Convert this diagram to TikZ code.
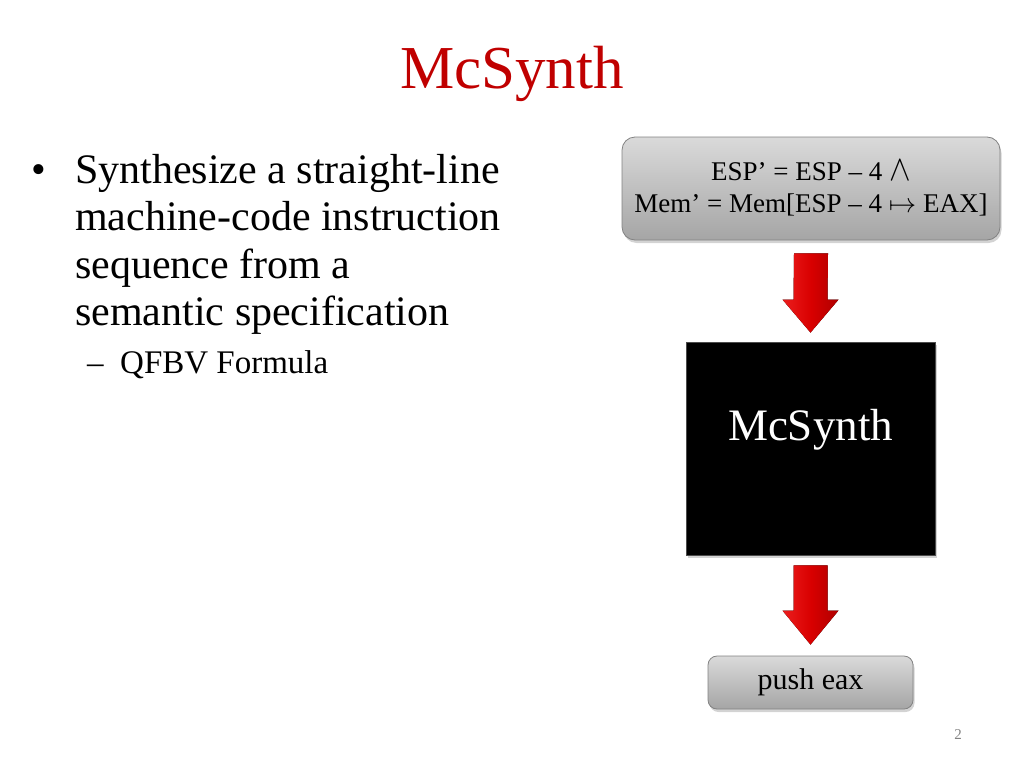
\documentclass[tikz,border=0pt]{standalone}
\usepackage{fontspec}
\setmainfont{Liberation Serif}
\usetikzlibrary{calc,shadows}
\definecolor{titlered}{RGB}{192,0,0}
\definecolor{boxtop}{RGB}{218,218,218}
\definecolor{boxbot}{RGB}{165,165,165}
\definecolor{boxline}{RGB}{130,130,130}
\definecolor{arrowlight}{RGB}{235,30,30}
\definecolor{arrowdark}{RGB}{175,0,0}
\definecolor{pagegray}{RGB}{130,130,130}
\newcommand{\myand}{\scalebox{1.3}[1.45]{$\wedge$}}
\newcommand{\mymaps}{\scalebox{1.1}[1.1]{$\mapsto$}}
\tikzset{
  graybox/.style={draw=boxline, line width=0.8pt, rounded corners=13pt,
    top color=boxtop, bottom color=boxbot, inner sep=0pt,
    drop shadow={shadow xshift=1.5pt, shadow yshift=-3pt, opacity=0.35}},
  blackbox/.style={fill=black, draw=black!70, line width=0.8pt, inner sep=0pt,
    drop shadow={shadow xshift=1.5pt, shadow yshift=-3pt, opacity=0.35}},
  bigarrow/.style={left color=arrowlight, right color=arrowdark, middle color=red!85!black},
  bodytext/.style={anchor=base west, inner sep=0pt, font=\fontsize{42}{47}\selectfont},
}
\begin{document}
\begin{tikzpicture}[x=1pt,y=-1pt]
\useasboundingbox (0,0) rectangle (1024,768);
% title
\node[anchor=base, inner sep=0pt, text=titlered, font=\fontsize{61}{70}\selectfont] (title) at (512,88) {McSynth};
% bullet text
\node[anchor=base west, inner sep=0pt, font=\fontsize{42}{47}\selectfont] (bul) at (31,183) {•};
\node[bodytext] (l1) at (75,183) {Synthesize a straight-line};
\node[bodytext] (l2) at (75,230) {machine-code instruction};
\node[bodytext] (l3) at (75,278) {sequence from a};
\node[bodytext] (l4) at (75,325) {semantic specification};
\node[anchor=base west, inner sep=0pt, font=\fontsize{33}{38}\selectfont] (dash) at (87,373) {–};
\node[anchor=base west, inner sep=0pt, font=\fontsize{33}{38}\selectfont] (l5) at (120,373) {QFBV Formula};
% diagram
\node[graybox, minimum width=378pt, minimum height=103pt, align=center,
      font=\fontsize{27}{32}\selectfont] (spec) at (811,188.5)
  {ESP’ = ESP – 4 \myand\\Mem’ = Mem[ESP – 4 \mymaps{} EAX]};
\node[blackbox, minimum width=249pt, minimum height=213pt] (mc) at (810.5,448.5) {};
\node[anchor=base, inner sep=0pt, text=white, font=\fontsize{45}{50}\selectfont] (mclabel) at (810.5,440) {McSynth};
\node[graybox, rounded corners=9pt, minimum width=205pt, minimum height=53pt,
      font=\fontsize{30}{34}\selectfont] (push) at (810.5,682.5) {push eax};
% arrows
\fill[bigarrow] ($(spec.south)+(-17,13)$) -- ($(spec.south)+(17,13)$)
  -- ($(mc.north)+(17,-42)$) -- ($(mc.north)+(28,-42)$) -- ($(mc.north)+(0,-9)$)
  -- ($(mc.north)+(-28,-42)$) -- ($(mc.north)+(-17,-42)$) -- cycle;
\fill[bigarrow] ($(mc.south)+(-17,10)$) -- ($(mc.south)+(17,10)$)
  -- ($(push.north)+(17,-45)$) -- ($(push.north)+(28,-45)$) -- ($(push.north)+(0,-11)$)
  -- ($(push.north)+(-28,-45)$) -- ($(push.north)+(-17,-45)$) -- cycle;
% page number
\node[anchor=base, inner sep=0pt, text=pagegray, font=\fontsize{15}{18}\selectfont] (page) at (958,739) {2};
\end{tikzpicture}
\end{document}
